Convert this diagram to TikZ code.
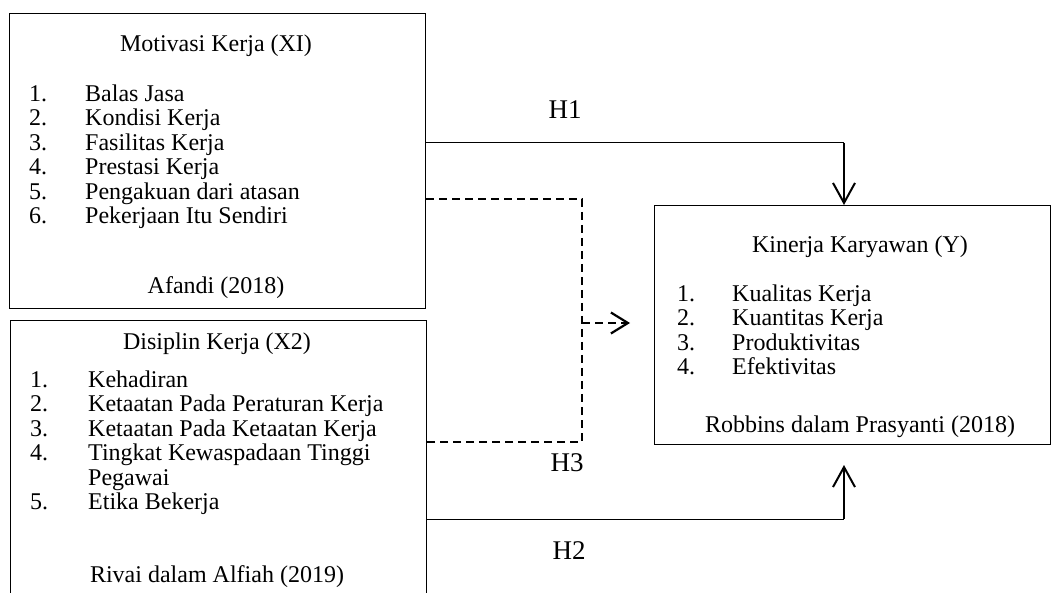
\documentclass[tikz,border=0pt]{standalone}
\usepackage{fontspec}
\setmainfont{Liberation Serif}
\usetikzlibrary{arrows.meta}
\begin{document}
\begin{tikzpicture}[x=1pt,y=-1pt,
  box/.style={draw, line width=1pt, inner sep=0pt, anchor=north west},
  txt/.style={inner sep=0pt, font=\fontsize{24}{25}\selectfont, text height=16pt, text depth=5pt},
  hlab/.style={inner sep=0pt, font=\fontsize{27}{28}\selectfont},
  conn/.style={line width=1pt},
  arr/.style={line width=2pt, -{Straight Barb[length=20pt,width=22pt,line width=2pt]}},
  dsh/.style={line width=1.6pt, dash pattern=on 8pt off 5pt},
  darr/.style={line width=2pt, dash pattern=on 8pt off 5pt, -{Straight Barb[length=17pt,width=21pt,line width=2.2pt]}}
]
\useasboundingbox (0,0) rectangle (1052,593);
\clip (0,0) rectangle (1052,593);
\fill[white] (0,0) rectangle (1052,593);

% boxes
\node[box, minimum width=416pt, minimum height=295pt] (m) at (9,13) {};
\node[box, minimum width=416pt, minimum height=300pt] (d) at (10,320) {};
\node[box, minimum width=396pt, minimum height=239pt] (y) at (654,205) {};

% box 1 text
\node[txt] (mt) at (216,46) {Motivasi Kerja (XI)};
\foreach \n/\t [count=\i from 0] in {1./Balas Jasa,2./Kondisi Kerja,3./Fasilitas Kerja,4./Prestasi Kerja,5./Pengakuan dari atasan,6./Pekerjaan Itu Sendiri}{
  \node[txt, anchor=west] (mn\i) at (29,96+24.4*\i) {\n};
  \node[txt, anchor=west] (ml\i) at (85,96+24.4*\i) {\t};
}
\node[txt] (ms) at (216,288) {Afandi (2018)};

% box 2 text
\node[txt] (dt) at (217,344) {Disiplin Kerja (X2)};
\foreach \n/\t [count=\i from 0] in {1./Kehadiran,2./Ketaatan Pada Peraturan Kerja,3./Ketaatan Pada Ketaatan Kerja,4./Tingkat Kewaspadaan Tinggi,/Pegawai,5./Etika Bekerja}{
  \node[txt, anchor=west] (dn\i) at (30,382+24.4*\i) {\n};
  \node[txt, anchor=west] (dl\i) at (88,382+24.4*\i) {\t};
}
\node[txt] (ds) at (217,577) {Rivai dalam Alfiah (2019)};

% box Y text
\node[txt] (yt) at (860,247) {Kinerja Karyawan (Y)};
\foreach \n/\t [count=\i from 0] in {1./Kualitas Kerja,2./Kuantitas Kerja,3./Produktivitas,4./Efektivitas}{
  \node[txt, anchor=west] (yn\i) at (677,296+24.4*\i) {\n};
  \node[txt, anchor=west] (yl\i) at (732,296+24.4*\i) {\t};
}
\node[txt] (ys) at (860,427) {Robbins dalam Prasyanti (2018)};

% labels
\node[hlab] (h1) at (565,110) {H1};
\node[hlab] (h3) at (567,463) {H3};
\node[hlab] (h2) at (569,551) {H2};

% H1 connector
\coordinate (h1a) at (844,143);
\draw[conn] (m.east |- h1a) -- (h1a);
\draw[arr] (h1a) -- (y.north -| h1a);

% H2 connector
\coordinate (h2a) at (844,519);
\coordinate (h2t) at (844,465);
\draw[conn] (d.east |- h2a) -- (h2a);
\draw[arr] (h2a) -- (h2t);

% H3 dashed connector
\coordinate (dc1) at (582,199);
\coordinate (dc2) at (582,442);
\draw[dsh] (m.east |- dc1) -- (dc1) -- (dc2) -- (d.east |- dc2);
\coordinate (da) at (582,323);
\coordinate (db) at (630,323);
\draw[darr] (da) -- (db);
\end{tikzpicture}
\end{document}
